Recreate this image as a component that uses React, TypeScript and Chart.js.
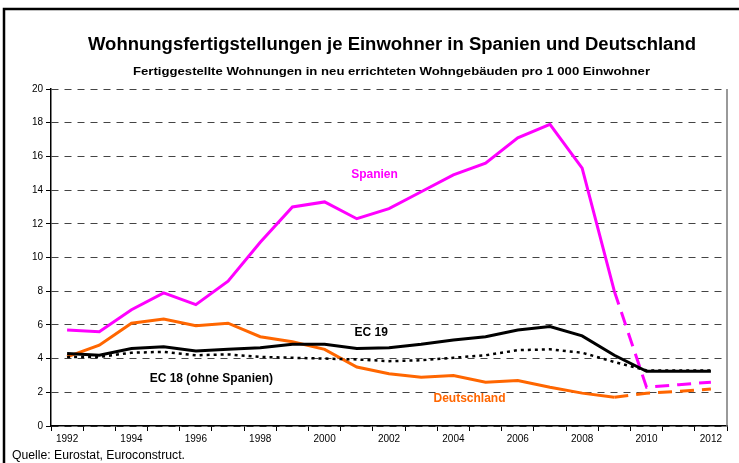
import { useEffect, useRef } from 'react';
import { Chart, registerables } from 'chart.js';

Chart.register(...registerables);

const years = ['1992', '1993', '1994', '1995', '1996', '1997', '1998', '1999', '2000', '2001', '2002', '2003', '2004', '2005', '2006', '2007', '2008', '2009', '2010', '2011', '2012'];
const spanien = [5.7, 5.6, 6.9, 7.9, 7.2, 8.6, 10.9, 13.0, 13.3, 12.3, 12.9, 13.9, 14.9, 15.6, 17.1, 17.9, 15.3, 8.0, 2.3, 2.45, 2.6];
const deutschland = [4.1, 4.8, 6.1, 6.35, 5.95, 6.1, 5.3, 5.0, 4.55, 3.5, 3.1, 2.9, 3.0, 2.6, 2.7, 2.3, 1.95, 1.7, 1.95, 2.05, 2.2];
const ec19 = [4.3, 4.2, 4.6, 4.7, 4.45, 4.55, 4.65, 4.85, 4.85, 4.6, 4.65, 4.85, 5.1, 5.3, 5.7, 5.9, 5.35, 4.2, 3.25, 3.25, 3.25];
const ec18 = [4.1, 4.1, 4.35, 4.4, 4.2, 4.25, 4.1, 4.05, 4.0, 3.95, 3.85, 3.9, 4.05, 4.2, 4.5, 4.55, 4.35, 3.8, 3.3, 3.3, 3.3];
const yTicks = [0, 2, 4, 6, 8, 10, 12, 14, 16, 18, 20];

const titleText = 'Wohnungsfertigstellungen je Einwohner in Spanien und Deutschland';
const subtitleText = 'Fertiggestellte Wohnungen in neu errichteten Wohngebäuden pro 1 000 Einwohner';
const sourceText = 'Quelle: Eurostat, Euroconstruct.';

// series labels placed in data space: [text, category index, value, color]
const seriesLabels: [string, number, number, string][] = [
  ['Spanien', 9.55, 14.9, '#FF00FF'],
  ['EC 19', 9.45, 5.52, '#000000'],
  ['EC 18 (ohne Spanien)', 4.48, 2.78, '#000000'],
  ['Deutschland', 12.5, 1.65, '#FF6600'],
];

const FONT = '"Liberation Sans", Arial, sans-serif';
const forecastFrom = 17; // 2009 onwards dashed

function fitText(ctx: CanvasRenderingContext2D, text: string, x: number, y: number, width: number, align: 'left' | 'center') {
  const w = ctx.measureText(text).width;
  const k = width / w;
  ctx.save();
  ctx.translate(x, y);
  ctx.scale(k, 1);
  ctx.textAlign = align;
  ctx.fillText(text, 0, 0);
  ctx.restore();
}

const decorPlugin = {
  id: 'decor',
  afterDraw(chart: any) {
    const { ctx, chartArea, scales } = chart;
    ctx.save();
    // outer frame
    ctx.strokeStyle = '#000';
    ctx.lineWidth = 2.5;
    ctx.beginPath();
    ctx.moveTo(4, 463);
    ctx.lineTo(4, 9);
    ctx.lineTo(739, 9);
    ctx.stroke();
    // plot right border
    ctx.strokeStyle = '#777';
    ctx.lineWidth = 1.5;
    ctx.beginPath();
    ctx.moveTo(chartArea.right, chartArea.top);
    ctx.lineTo(chartArea.right, chartArea.bottom);
    ctx.stroke();
    // titles
    ctx.fillStyle = '#000';
    ctx.textBaseline = 'middle';
    ctx.font = `bold 18px ${FONT}`;
    fitText(ctx, titleText, 392, 45, 608, 'center');
    ctx.font = `bold 11.5px ${FONT}`;
    fitText(ctx, subtitleText, 391.5, 72, 517, 'center');
    // source
    ctx.font = `12px ${FONT}`;
    fitText(ctx, sourceText, 12, 456, 173, 'left');
    // series labels
    ctx.textAlign = 'center';
    ctx.font = `bold 12px ${FONT}`;
    for (const [t, xi, v, c] of seriesLabels) {
      ctx.fillStyle = c;
      ctx.fillText(t, scales.x.getPixelForValue(xi), scales.y.getPixelForValue(v));
    }
    ctx.restore();
  },
};

export default function App() {
  const ref = useRef<HTMLCanvasElement>(null);
  useEffect(() => {
    const dashAfter = (dash: number[]) => (c: any) => (c.p0DataIndex >= forecastFrom ? dash : undefined);
    const chart = new Chart(ref.current as HTMLCanvasElement, {
      type: 'line',
      data: {
        labels: years,
        datasets: [
          { label: 'EC 18 (ohne Spanien)', data: ec18, borderColor: '#000', borderWidth: 2.5, borderDash: [3, 4], pointRadius: 0, tension: 0 },
          { label: 'EC 19', data: ec19, borderColor: '#000', borderWidth: 3, pointRadius: 0, tension: 0 },
          { label: 'Deutschland', data: deutschland, borderColor: '#FF6600', borderWidth: 3, pointRadius: 0, tension: 0, segment: { borderDash: dashAfter([14, 8]) } },
          { label: 'Spanien', data: spanien, borderColor: '#FF00FF', borderWidth: 3, pointRadius: 0, tension: 0, segment: { borderDash: dashAfter([14, 8]) } },
        ],
      },
      options: {
        responsive: false,
        animation: false,
        layout: { padding: { left: 0, top: 89, right: 12, bottom: 12 } },
        plugins: { legend: { display: false }, title: { display: false }, tooltip: { enabled: false } },
        scales: {
          x: {
            type: 'category',
            offset: true,
            grid: { offset: true, drawOnChartArea: false, drawTicks: true, tickLength: 5, tickColor: '#000', tickWidth: 1 },
            border: { display: true, color: '#000', width: 1.5 },
            ticks: {
              autoSkip: false,
              maxRotation: 0,
              color: '#000',
              padding: 2,
              font: { family: FONT, size: 10 },
              callback: (_v: any, i: number) => (i % 2 === 0 ? years[i] : ''),
            },
            afterFit: (s: any) => { s.height = 25; },
          },
          y: {
            min: 0,
            max: 20,
            afterBuildTicks: (s: any) => { s.ticks = yTicks.map((v) => ({ value: v })); },
            grid: { color: '#444', lineWidth: 1, drawTicks: true, tickLength: 5, tickColor: '#000', tickWidth: 1, tickBorderDash: [] },
            border: { display: true, color: '#000', width: 1.5, dash: [7, 6] },
            ticks: { color: '#000', padding: 3, font: { family: FONT, size: 10 } },
            afterFit: (s: any) => { s.width = 51; },
          },
        },
      },
      plugins: [decorPlugin],
    });
    return () => chart.destroy();
  }, []);
  return (
    <div style={{ position: 'fixed', left: 0, top: 0, width: 739, height: 463, background: '#fff' }}>
      <canvas ref={ref} width={739} height={463} style={{ display: 'block' }} />
    </div>
  );
}
